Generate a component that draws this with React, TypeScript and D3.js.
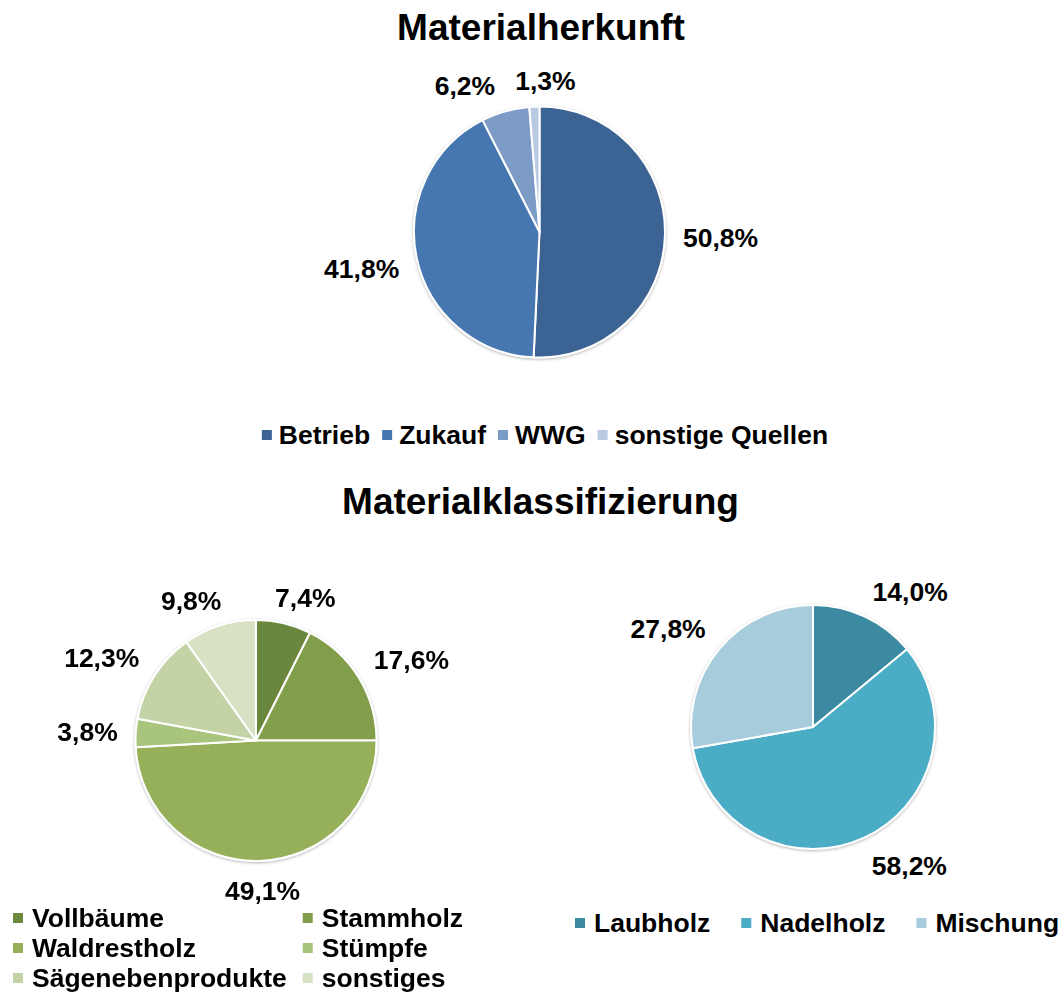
import React from "react";
import * as d3 from "d3";

const herkunftCategories = ["Betrieb", "Zukauf", "WWG", "sonstige Quellen"];
const herkunftValues = [50.8, 41.8, 6.2, 1.3];
const herkunftColors = ["#3B6393", "#4677B0", "#7B9BC7", "#B9C9E2"];

const klassCategories = ["Vollbäume", "Stammholz", "Waldrestholz", "Stümpfe", "Sägenebenprodukte", "sonstiges"];
const klassValues = [7.4, 17.6, 49.1, 3.8, 12.3, 9.8];
const klassColors = ["#6B883C", "#829E4C", "#95B058", "#A9C47C", "#C3D3A5", "#D7E2C5"];

const holzCategories = ["Laubholz", "Nadelholz", "Mischung"];
const holzValues = [14.0, 58.2, 27.8];
const holzColors = ["#3B8AA1", "#4BACC6", "#A7CDDC"];

const FONT = "'Liberation Sans', Arial, Helvetica, sans-serif";
const FS = 26.5;

let ctx: CanvasRenderingContext2D | null = null;
function measure(text: string, size = FS): number {
  if (!ctx) ctx = document.createElement("canvas").getContext("2d");
  if (!ctx) return text.length * size * 0.6;
  ctx.font = `bold ${size}px ${FONT}`;
  return ctx.measureText(text).width;
}

const fmt = (v: number) => v.toFixed(1).replace(".", ",") + "%";

type Box = { x: number; y: number; w: number; h: number; text: string };

function Pie({ cx, cy, r, values, colors }: { cx: number; cy: number; r: number; values: number[]; colors: string[] }) {
  const pie = d3.pie<number>().sort(null).value((d) => d);
  const arcs = pie(values);
  const arc = d3.arc<d3.PieArcDatum<number>>().innerRadius(0).outerRadius(r);
  const gap = 18;
  const k = 2.5;
  const h = 20;
  const boxes: Box[] = arcs.map((a) => {
    const mid = (a.startAngle + a.endAngle) / 2;
    const s = Math.sin(mid);
    const c = Math.cos(mid);
    const text = fmt(a.data);
    const w = measure(text);
    const px = cx + (r + gap) * s;
    const py = cy - (r + gap) * c;
    const clamp = (v: number) => Math.max(-1, Math.min(1, v));
    return { x: px + clamp(s * k) * (w / 2), y: py - clamp(c * k) * (h / 2) + 2, w, h, text };
  });
  // resolve horizontal overlaps
  const pad = 20;
  for (let i = 0; i < boxes.length; i++) {
    for (let j = i + 1; j < boxes.length; j++) {
      const A = boxes[i], B = boxes[j];
      if (Math.abs(A.y - B.y) < (A.h + B.h) / 2) {
        const need = (A.w + B.w) / 2 + pad;
        const dist = Math.abs(A.x - B.x);
        if (dist < need) {
          const shift = (need - dist) / 2;
          if (A.x <= B.x) { A.x -= shift; B.x += shift; } else { A.x += shift; B.x -= shift; }
        }
      }
    }
  }
  return (
    <g>
      <g filter="url(#pieShadow)">
        {arcs.map((a, i) => (
          <path key={i} d={arc(a) || ""} transform={`translate(${cx},${cy})`} fill={colors[i]} stroke="#fff" strokeWidth={2} strokeLinejoin="round" />
        ))}
      </g>
      {boxes.map((b, i) => (
        <text key={i} x={b.x} y={b.y} textAnchor="middle" dominantBaseline="central" fontFamily={FONT} fontWeight="bold" fontSize={FS} fill="#000">
          {b.text}
        </text>
      ))}
    </g>
  );
}

function LegendItem({ x, y, color, label }: { x: number; y: number; color: string; label: string }) {
  return (
    <g>
      <rect x={x} y={y - 5} width={10} height={10} fill={color} />
      <text x={x + 19} y={y} dominantBaseline="central" fontFamily={FONT} fontWeight="bold" fontSize={FS} fill="#000">
        {label}
      </text>
    </g>
  );
}

export default function App() {
  const W = 1063, H = 992;

  // Top legend: horizontal, centered
  const topItemW = herkunftCategories.map((c) => 17 + measure(c) + 12);
  const topTotal = d3.sum(topItemW) - 12;
  let tx = 545 - topTotal / 2;
  const topLegend = herkunftCategories.map((c, i) => {
    const x = tx;
    tx += topItemW[i];
    return { x, c, i };
  });

  // Green legend: 2 columns x 3 rows
  const col1 = 13;
  const col1Max = d3.max(klassCategories.filter((_, i) => i % 2 === 0), (c) => measure(c)) || 0;
  const col2 = col1 + 19 + col1Max + 16;
  const rowY = (row: number) => 918 + row * 30;

  // Blue legend: horizontal
  let bx = 575;
  const holzLegend = holzCategories.map((c, i) => {
    const x = bx;
    bx += 20 + measure(c) + 30;
    return { x, c, i };
  });

  return (
    <svg width={W} height={H} style={{ position: "absolute", left: 0, top: 0, background: "#fff" }}>
      <defs>
        <filter id="pieShadow" x="-20%" y="-20%" width="140%" height="140%">
          <feDropShadow dx="0" dy="1" stdDeviation="1.5" floodColor="#000" floodOpacity="0.3" />
        </filter>
      </defs>
      <rect width={W} height={H} fill="#fff" />
      <text x={541} y={40} textAnchor="middle" fontFamily={FONT} fontWeight="bold" fontSize={37} fill="#000">
        Materialherkunft
      </text>
      <Pie cx={539.5} cy={232} r={125.5} values={herkunftValues} colors={herkunftColors} />
      {topLegend.map(({ x, c, i }) => (
        <g key={c}>
          <rect x={x} y={435 - 5} width={10} height={10} fill={herkunftColors[i]} />
          <text x={x + 17} y={435} dominantBaseline="central" fontFamily={FONT} fontWeight="bold" fontSize={FS} fill="#000">
            {c}
          </text>
        </g>
      ))}

      <text x={540.5} y={514} textAnchor="middle" fontFamily={FONT} fontWeight="bold" fontSize={37} fill="#000">
        Materialklassifizierung
      </text>
      <Pie cx={256} cy={740.5} r={120.5} values={klassValues} colors={klassColors} />
      {klassCategories.map((c, i) => (
        <LegendItem key={c} x={i % 2 === 0 ? col1 : col2} y={rowY(Math.floor(i / 2))} color={klassColors[i]} label={c} />
      ))}

      <Pie cx={813} cy={727} r={122} values={holzValues} colors={holzColors} />
      {holzLegend.map(({ x, c, i }) => (
        <LegendItem key={c} x={x} y={923} color={holzColors[i]} label={c} />
      ))}
    </svg>
  );
}
